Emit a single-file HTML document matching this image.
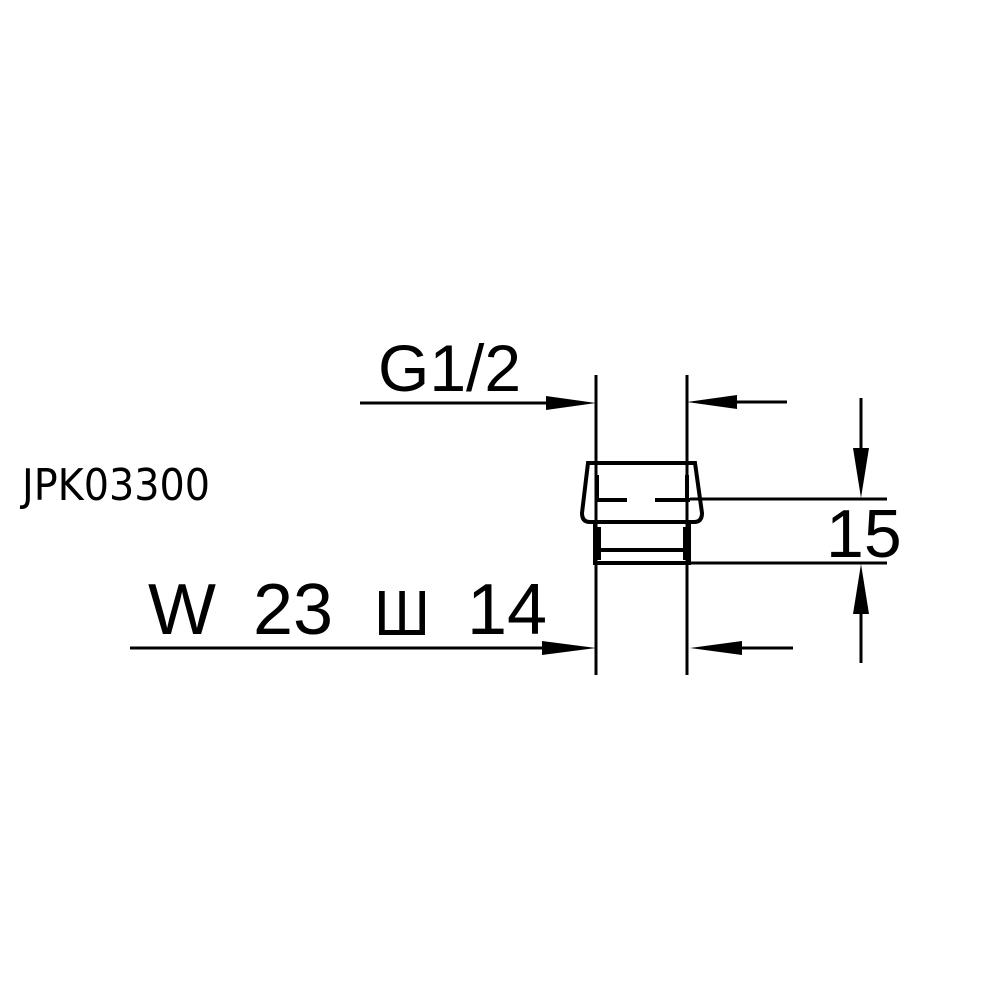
<!DOCTYPE html>
<html><head><style>body{margin:0;background:#fff}svg{display:block}</style></head>
<body>
<svg width="1000" height="1000" viewBox="0 0 1000 1000" xmlns="http://www.w3.org/2000/svg">
<rect width="1000" height="1000" fill="#fff"/>
<g stroke="#000" stroke-width="3" fill="none">
<line x1="596" y1="375" x2="596" y2="675"/>
<line x1="687" y1="375" x2="687" y2="675"/>
<line x1="360" y1="403" x2="550" y2="403"/>
<line x1="735" y1="402" x2="787" y2="402"/>
<line x1="130" y1="648" x2="550" y2="648"/>
<line x1="740" y1="648" x2="793" y2="648"/>
<line x1="690" y1="499" x2="887" y2="499"/>
<line x1="690" y1="563" x2="887" y2="563"/>
<line x1="861" y1="398" x2="861" y2="450"/>
<line x1="861" y1="612" x2="861" y2="663"/>
</g>
<g stroke="#000" stroke-width="4" fill="none">
<path d="M588 463 L695 463 L702 513 Q702 522 694 522 L590 522 Q582 522 582 513 Z"/>
<path d="M597 500 L627 500 M655 500 L690 500 M597 475 L597 500 M687 475 L687 500"/>
<path d="M595 522 L595 563 L689 563 L689 522 M597 550 L687 550 M599 527 L599 560 M685 527 L685 560"/>
</g>
<g fill="#000">
<polygon points="596,403 546,396 546,410"/>
<polygon points="687,402 737,395 737,409"/>
<polygon points="596,648 542,641 542,655"/>
<polygon points="690,648 742,641 742,655"/>
<polygon points="861,498 853,448 869,448"/>
<polygon points="861,564 853,614 869,614"/>
</g>
<g font-family="Liberation Sans, sans-serif" fill="#000">
<text x="378" y="391" font-size="66">G1/2</text>
<text x="826" y="557" font-size="68">15</text>
<text x="148" y="634" font-size="72">W</text>
<text x="253" y="634" font-size="72">23</text>
<text x="374" y="635" font-size="64" textLength="56" lengthAdjust="spacingAndGlyphs">Ш</text>
<text x="467" y="634" font-size="72">14</text>
<text x="22" y="500" font-size="44" textLength="188" lengthAdjust="spacingAndGlyphs" font-family="DejaVu Sans Condensed, DejaVu Sans, sans-serif" font-weight="300">JPK03300</text>
</g>
</svg>
</body></html>
